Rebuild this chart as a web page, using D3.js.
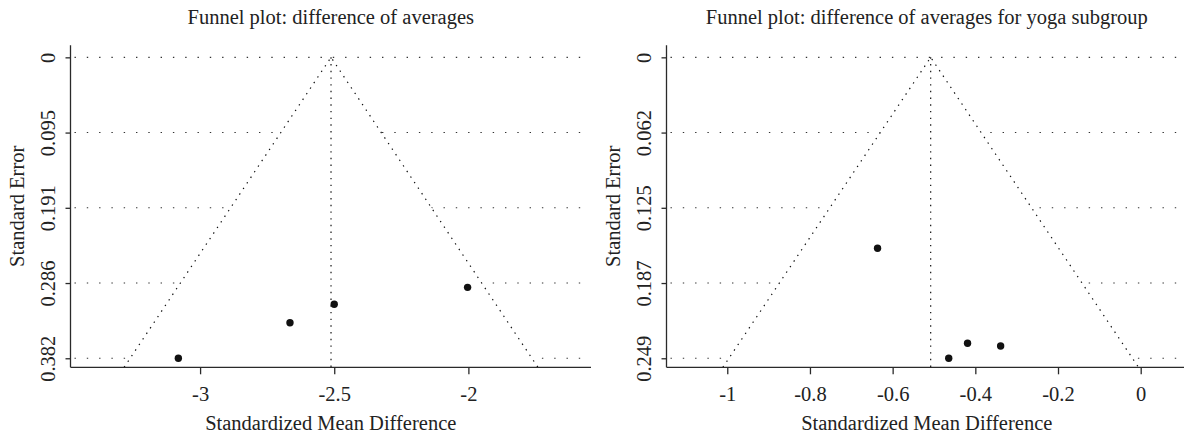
<!DOCTYPE html>
<html>
<head>
<meta charset="utf-8">
<script src="https://cdn.jsdelivr.net/npm/d3@7"></script>
<style>
  html, body { margin: 0; padding: 0; background: #fff; }
  text { font-family: "Liberation Serif", "Times New Roman", serif; fill: #222; }
</style>
</head>
<body>
<svg id="chart"></svg>
<script>
// Funnel plots, two panels side by side

const svg_w = 1184;
const svg_h = 434;

// left panel: all studies
const left_title = "Funnel plot: difference of averages";
const left_smd = [-3.081, -2.665, -2.500, -2.003];
const left_se = [0.382, 0.337, 0.3135, 0.292];
const left_center = -2.512;
const left_xticks = [-3, -2.5, -2];
const left_xdomain = [-3.483, -1.543];
const left_yticks = [0, 0.0955, 0.191, 0.2865, 0.382];
const left_ylabels = ["0", "0.095", "0.191", "0.286", "0.382"];

// right panel: yoga subgroup
const right_title = "Funnel plot: difference of averages for yoga subgroup";
const right_smd = [-0.6365, -0.4643, -0.4188, -0.3388];
const right_se = [0.158, 0.249, 0.2366, 0.2388];
const right_center = -0.508;
const right_xticks = [-1, -0.8, -0.6, -0.4, -0.2, 0];
const right_xdomain = [-1.147, 0.112];
const right_yticks = [0, 0.06225, 0.1245, 0.18675, 0.249];
const right_ylabels = ["0", "0.062", "0.125", "0.187", "0.249"];

const x_label = "Standardized Mean Difference";
const y_label = "Standard Error";

const font_size = 20.5;
const plot_t = 45.3, plot_b = 367.3;

let svg = d3.select("#chart")
  .attr("width", svg_w)
  .attr("height", svg_h)
  .style("display", "block");

svg.append("rect").attr("width", svg_w).attr("height", svg_h).attr("fill", "#fff");

drawPanel({
  x0: 70.5, x1: 591,
  title: left_title, smd: left_smd, se: left_se, center: left_center,
  xticks: left_xticks, xdomain: left_xdomain,
  yticks: left_yticks, ylabels: left_ylabels
});

drawPanel({
  x0: 666.5, x1: 1187,
  title: right_title, smd: right_smd, se: right_se, center: right_center,
  xticks: right_xticks, xdomain: right_xdomain,
  yticks: right_yticks, ylabels: right_ylabels
});

function drawPanel(p) {
  let se_max = d3.max(p.yticks);
  let x_scale = d3.scaleLinear().domain(p.xdomain).range([p.x0, p.x1]);
  let y_scale = d3.scaleLinear()
    .domain([-0.04 * se_max, 1.03 * se_max])
    .range([plot_t, plot_b]);
  let se_bot = y_scale.domain()[1];

  let g = svg.append("g");
  let clip_id = "clip" + Math.round(p.x0);
  svg.append("clipPath").attr("id", clip_id)
    .append("rect")
    .attr("x", p.x0).attr("y", plot_t)
    .attr("width", p.x1 - p.x0).attr("height", plot_b - plot_t);
  let plot = g.append("g").attr("clip-path", `url(#${clip_id})`);

  // dotted horizontal lines at the y ticks
  plot.selectAll(".hline")
    .data(p.yticks)
    .enter().append("line")
    .attr("x1", p.x0 + 4).attr("x2", p.x1)
    .attr("y1", d => y_scale(d)).attr("y2", d => y_scale(d))
    .attr("stroke", "#333")
    .attr("stroke-width", 1.1)
    .attr("stroke-dasharray", "1.4 10.9");

  // funnel region (white, hides the grid inside)
  let funnel = [
    [p.center - 1.96 * se_bot, se_bot],
    [p.center, 0],
    [p.center + 1.96 * se_bot, se_bot]
  ];
  plot.append("path")
    .attr("d", d3.line().x(d => x_scale(d[0])).y(d => y_scale(d[1]))(funnel) + "Z")
    .attr("fill", "#fff");
  plot.append("path")
    .attr("d", d3.line().x(d => x_scale(d[0])).y(d => y_scale(d[1]))(funnel))
    .attr("fill", "none")
    .attr("stroke", "#111")
    .attr("stroke-width", 1.2)
    .attr("stroke-dasharray", "1.4 5.3");

  // reference line
  plot.append("line")
    .attr("x1", x_scale(p.center)).attr("x2", x_scale(p.center))
    .attr("y1", y_scale(0)).attr("y2", plot_b)
    .attr("stroke", "#111")
    .attr("stroke-width", 1.2)
    .attr("stroke-dasharray", "1.4 5.3");

  // studies
  plot.selectAll("circle")
    .data(p.smd.map((d, i) => ({x: d, y: p.se[i]})))
    .enter().append("circle")
    .attr("cx", d => x_scale(d.x))
    .attr("cy", d => y_scale(d.y))
    .attr("r", 3.7)
    .attr("fill", "#111");

  // axes
  let x_axis = g.append("g")
    .attr("transform", `translate(0,${plot_b})`)
    .call(d3.axisBottom(x_scale).tickValues(p.xticks).tickSize(7).tickSizeOuter(0)
      .tickFormat(d => String(d).replace("−", "-")));
  x_axis.select(".domain")
    .attr("d", `M${p.x0},0H${p.x1}`);
  let y_axis = g.append("g")
    .attr("transform", `translate(${p.x0},0)`)
    .call(d3.axisLeft(y_scale).tickValues(p.yticks).tickSize(5).tickSizeOuter(0)
      .tickFormat((d, i) => p.ylabels[i]));
  y_axis.select(".domain")
    .attr("d", `M0,${plot_t}V${plot_b}`);

  g.selectAll(".domain, .tick line")
    .attr("stroke", "#2a2a2a")
    .attr("stroke-width", 1.3);

  x_axis.selectAll(".tick text")
    .attr("y", 0).attr("dy", 0)
    .attr("transform", "translate(0,34)")
    .attr("font-size", font_size)
    .attr("font-family", "Liberation Serif, serif")
    .attr("fill", "#222");

  y_axis.selectAll(".tick text")
    .attr("x", 0).attr("dy", "0.34em")
    .attr("transform", "translate(-22,0) rotate(-90)")
    .attr("text-anchor", "middle")
    .attr("font-size", font_size)
    .attr("font-family", "Liberation Serif, serif")
    .attr("fill", "#222");

  let mid_x = (p.x0 + p.x1) / 2;
  let mid_y = (plot_t + plot_b) / 2;

  g.append("text")
    .attr("x", mid_x).attr("y", 24)
    .attr("text-anchor", "middle")
    .attr("font-size", font_size)
    .text(p.title);

  g.append("text")
    .attr("x", mid_x).attr("y", 430)
    .attr("text-anchor", "middle")
    .attr("font-size", font_size)
    .text(x_label);

  g.append("text")
    .attr("transform", `translate(${p.x0 - 53},${mid_y}) rotate(-90)`)
    .attr("dy", "0.34em")
    .attr("text-anchor", "middle")
    .attr("font-size", font_size)
    .text(y_label);
}
</script>
</body>
</html>
